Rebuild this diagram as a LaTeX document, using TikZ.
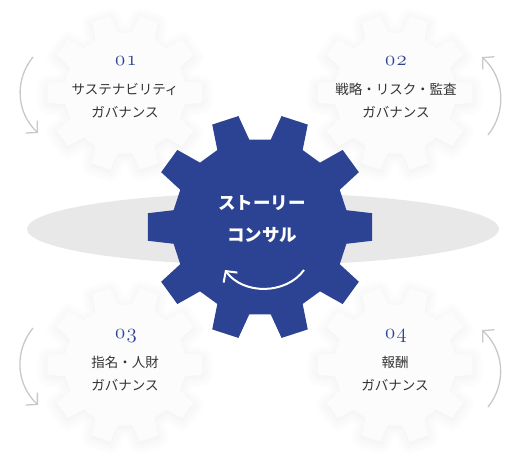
\documentclass[tikz,border=0pt]{standalone}
\usepackage{fontspec}
\newfontfamily\jpfont{Noto Sans CJK JP}
\usetikzlibrary{arrows.meta,shadows.blur}
\definecolor{cogblue}{HTML}{2C4393}
\definecolor{floorgray}{HTML}{E8E8E8}
\definecolor{arrowgray}{HTML}{C8C8C8}
\definecolor{textgray}{HTML}{333333}
\newcommand\osnums[1]{{\usefont{OML}{cmm}{m}{it}#1}}

\tikzset{
  pics/cog/.style={code={
    \path[#1] (349:88pt) \foreach \a in {0,36,...,324}{
      -- ({\a-7}:113pt) -- ({\a+7}:113pt) -- ({\a+11}:88pt) -- ({\a+25}:88pt)} -- cycle;
  }},
  whitecog/.style={fill=white!99!black,
    blur shadow={shadow xshift=0pt,shadow yshift=-2pt,shadow blur radius=12pt,
      shadow blur steps=12,shadow opacity=7}},
  bluecog/.style={fill=cogblue},
  numlabel/.style={text=cogblue,font=\fontsize{21}{21}\selectfont,anchor=base,inner sep=0pt},
  cogtext/.style={text=textgray,align=center,font=\jpfont\fontsize{13.5}{23}\selectfont,inner sep=0pt},
  hubtext/.style={text=white,align=center,font=\jpfont\bfseries\fontsize{17.5}{32}\selectfont,inner sep=0pt},
  turn/.style={arrowgray,line width=1.3pt,-{Straight Barb[length=8pt,width=17pt]},bend right=43},
  hubturn/.style={white,line width=2pt,-{Straight Barb[length=8pt,width=17pt]},bend left=54},
}

\begin{document}
\begin{tikzpicture}[x=1pt,y=1pt]
\useasboundingbox (0,0) rectangle (520,462);

% four small cogs
\pic[scale=0.69] at (125,369) {cog=whitecog};
\pic[scale=0.69] at (395,369) {cog=whitecog};
\pic[scale=0.69] at (125,97) {cog=whitecog};
\pic[scale=0.69] at (395,97) {cog=whitecog};

% turning arrows
\coordinate (a1s) at (33,405); \coordinate (a1e) at (38,329);
\coordinate (a2s) at (488,327); \coordinate (a2e) at (482,405);
\coordinate (a3s) at (33,134); \coordinate (a3e) at (38,57);
\coordinate (a4s) at (488,55); \coordinate (a4e) at (482,132);
\draw[turn] (a1s) to (a1e);
\draw[turn] (a2s) to (a2e);
\draw[turn] (a3s) to (a3e);
\draw[turn] (a4s) to (a4e);

% floor and hub
\fill[floorgray] (263,233) ellipse[x radius=236pt,y radius=36pt];
\pic at (260,235) {cog=bluecog};

\node[hubtext] (hub) at (262,243) {ストーリー\\コンサル};
\coordinate (h1s) at (304,192); \coordinate (h1e) at (225,192);
\draw[hubturn] (h1s) to (h1e);

% labels
\node[numlabel] (n1) at (126,396) {\osnums{0\kern1.5pt1}};
\node[cogtext] (t1) at (125,361) {サステナビリティ\\ガバナンス};
\node[numlabel] (n2) at (396,396) {\osnums{0\kern1.5pt2}};
\node[cogtext] (t2) at (396,361) {戦略・リスク・監査\\ガバナンス};
\node[numlabel] (n3) at (126,123) {\osnums{0\kern1.5pt3}};
\node[cogtext] (t3) at (125,88) {指名・人財\\ガバナンス};
\node[numlabel] (n4) at (396,123) {\osnums{0\kern1.5pt4}};
\node[cogtext] (t4) at (395,88) {報酬\\ガバナンス};
\end{tikzpicture}
\end{document}
